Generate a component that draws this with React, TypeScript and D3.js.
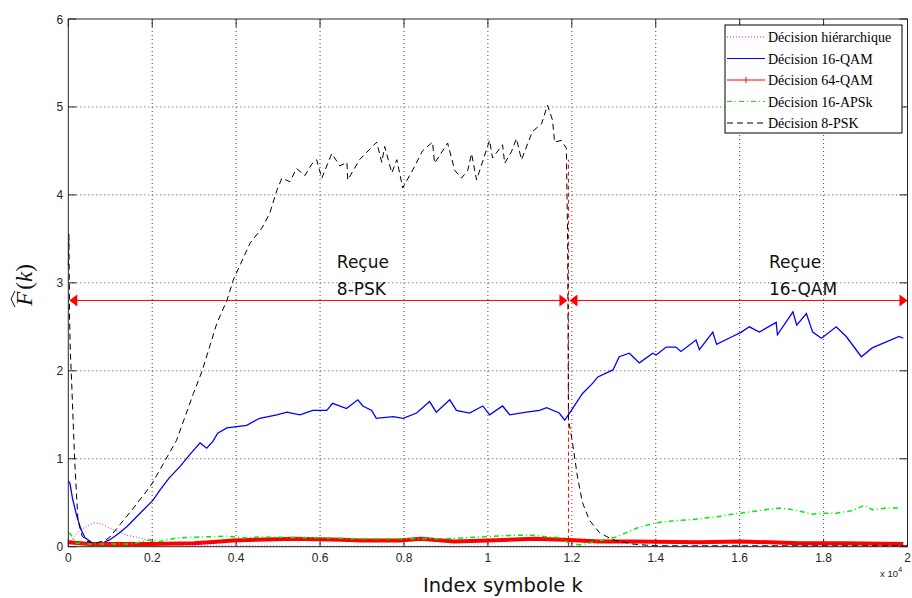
import React from 'react';
import * as d3 from 'd3';

const W = 912, H = 598;
const PL = 68.3, PR = 907.5, PT = 19, PB = 546.7;

const xTicks = [0, 2000, 4000, 6000, 8000, 10000, 12000, 14000, 16000, 18000, 20000];
const xTickLabels = ['0', '0.2', '0.4', '0.6', '0.8', '1', '1.2', '1.4', '1.6', '1.8', '2'];
const yTicks = [0, 1, 2, 3, 4, 5, 6];

// Décision hiérarchique (magenta dotted)
const kHier = [0, 150, 280, 600, 800, 990, 1400, 1710, 1950, 2350, 2800, 6000, 12000, 20000];
const vHier = [0.04, 0.12, 0.19, 0.27, 0.26, 0.21, 0.13, 0.10, 0.06, 0.03, 0.01, 0.005, 0.005, 0.005];

// Décision 16-QAM (blue)
const kQAM16 = [0, 40, 100, 200, 300, 400, 550, 680, 850, 990, 1200, 1400, 1710, 2020, 2180, 2400, 2660, 2900, 3140, 3300, 3450, 3560, 3780, 4250, 4560, 4970, 5210, 5520, 5830, 6160, 6300, 6630, 6900, 7020, 7230, 7340, 7740, 7980, 8300, 8610, 8770, 9090, 9250, 9560, 9880, 10040, 10350, 10520, 10920, 11230, 11400, 11700, 11830, 11990, 12250, 12500, 12620, 12980, 13130, 13370, 13610, 13930, 14010, 14250, 14480, 14600, 14960, 15040, 15360, 15450, 15830, 16040, 16230, 16470, 16870, 16900, 17270, 17360, 17590, 17740, 17950, 18300, 18540, 18900, 19160, 19800, 19900];
const vQAM16 = [0.75, 0.72, 0.55, 0.35, 0.2, 0.1, 0.05, 0.03, 0.05, 0.08, 0.15, 0.23, 0.38, 0.53, 0.64, 0.78, 0.91, 1.05, 1.18, 1.12, 1.2, 1.29, 1.35, 1.38, 1.46, 1.5, 1.53, 1.5, 1.55, 1.55, 1.63, 1.57, 1.67, 1.6, 1.55, 1.46, 1.48, 1.46, 1.52, 1.65, 1.53, 1.67, 1.55, 1.52, 1.6, 1.5, 1.6, 1.5, 1.53, 1.55, 1.58, 1.52, 1.44, 1.55, 1.74, 1.86, 1.93, 2.01, 2.16, 2.2, 2.09, 2.2, 2.18, 2.27, 2.27, 2.22, 2.35, 2.24, 2.44, 2.3, 2.39, 2.44, 2.5, 2.44, 2.55, 2.41, 2.67, 2.52, 2.65, 2.44, 2.37, 2.5, 2.39, 2.16, 2.26, 2.39, 2.37];

// Décision 64-QAM (red)
const kQAM64 = [0, 500, 1000, 2000, 3000, 3370, 3930, 4500, 5360, 6500, 7000, 7900, 8400, 9200, 10000, 11100, 11800, 12660, 13450, 15040, 16000, 17420, 18500, 19900];
const vQAM64 = [0.05, 0.03, 0.03, 0.03, 0.04, 0.05, 0.07, 0.08, 0.09, 0.08, 0.07, 0.07, 0.09, 0.06, 0.07, 0.09, 0.08, 0.06, 0.06, 0.05, 0.06, 0.04, 0.04, 0.03];

// Décision 16-APSk (green dash-dot)
const kAPSK = [0, 40, 200, 500, 1000, 1500, 1950, 2180, 2580, 3140, 3770, 4150, 4560, 6160, 6940, 7900, 9000, 10600, 11070, 11700, 11940, 12200, 12500, 13060, 13540, 13970, 14330, 14880, 15450, 15690, 15990, 16310, 16620, 16940, 17270, 17740, 17980, 18290, 18680, 18970, 19160, 19500, 19850];
const vAPSK = [0.15, 0.15, 0.04, 0.03, 0.03, 0.03, 0.08, 0.06, 0.1, 0.11, 0.12, 0.1, 0.11, 0.1, 0.09, 0.09, 0.09, 0.13, 0.13, 0.1, 0.04, 0.02, 0.05, 0.11, 0.21, 0.27, 0.29, 0.31, 0.34, 0.36, 0.38, 0.4, 0.42, 0.44, 0.42, 0.37, 0.38, 0.38, 0.41, 0.47, 0.42, 0.44, 0.44];

// Décision 8-PSK (black dashed)
const kPSK8 = [0, 15, 30, 50, 80, 150, 230, 330, 450, 640, 870, 990, 1230, 1520, 1830, 2000, 2580, 2980, 3190, 3540, 3780, 3930, 4330, 4610, 4800, 4970, 5090, 5280, 5440, 5640, 5800, 5920, 6040, 6280, 6470, 6640, 6660, 6940, 7350, 7470, 7540, 7710, 7830, 7970, 8250, 8440, 8680, 8730, 9040, 9210, 9370, 9520, 9610, 9730, 10040, 10110, 10350, 10400, 10560, 10680, 10800, 11060, 11280, 11420, 11540, 11590, 11750, 11870, 11900, 11920, 12017, 12136, 12255, 12422, 12660, 12970, 13446, 14000, 20000];
const vPSK8 = [3.2, 3.55, 2.6, 2.2, 1.87, 1.0, 0.3, 0.12, 0.06, 0.04, 0.07, 0.11, 0.25, 0.42, 0.61, 0.72, 1.21, 1.74, 2.0, 2.54, 2.8, 3.03, 3.45, 3.62, 3.79, 4.05, 4.19, 4.15, 4.3, 4.22, 4.35, 4.4, 4.19, 4.47, 4.33, 4.37, 4.17, 4.4, 4.6, 4.37, 4.55, 4.25, 4.4, 4.08, 4.32, 4.5, 4.6, 4.36, 4.59, 4.28, 4.19, 4.28, 4.47, 4.17, 4.62, 4.42, 4.57, 4.36, 4.49, 4.64, 4.4, 4.72, 4.81, 5.02, 4.85, 4.6, 4.62, 4.53, 3.5, 1.45, 1.18, 0.79, 0.5, 0.3, 0.16, 0.08, 0.03, 0.01, 0.01];

// Annotations
const switchK = 11920;
const switchTop = 4.4;
const arrowY = 2.8;
const regionLabels = [
  { k: 6400, lines: ['Reçue', '8-PSK'] },
  { k: 16700, lines: ['Reçue', '16-QAM'] },
];

const legendItems = [
  { label: 'Décision hiérarchique', color: '#ff00ff', dash: '1,2', width: 1 },
  { label: 'Décision 16-QAM', color: '#0000ff', dash: '', width: 1 },
  { label: 'Décision 64-QAM', color: '#ff0000', dash: '', width: 1, marker: true },
  { label: 'Décision 16-APSk', color: '#00ee00', dash: '5,3,1,3', width: 1.2 },
  { label: 'Décision 8-PSK', color: '#000000', dash: '6,4', width: 1 },
];

export default function App() {
  const x = d3.scaleLinear().domain([0, 20000]).range([PL, PR]);
  const y = d3.scaleLinear().domain([0, 6]).range([PB, PT]);
  const line = (ks: number[], vs: number[]) =>
    d3.line<number>().x((_, i) => x(ks[i])).y((v) => y(v))(vs) || '';

  const ay = y(arrowY);
  const sx = x(switchK);
  const ah = 8, aw = 6;

  return (
    <svg width={W} height={H} style={{ position: 'absolute', left: 0, top: 0, background: '#fff' }}
      fontFamily="'Liberation Sans', Arial, sans-serif">
      <rect x={0} y={0} width={W} height={H} fill="#fff" />
      {/* grid */}
      {xTicks.slice(1, -1).map((t) => (
        <line key={'gx' + t} x1={x(t)} x2={x(t)} y1={PT} y2={PB} stroke="#444" strokeWidth={1} strokeDasharray="1,3" />
      ))}
      {yTicks.slice(1, -1).map((t) => (
        <line key={'gy' + t} x1={PL} x2={PR} y1={y(t)} y2={y(t)} stroke="#444" strokeWidth={1} strokeDasharray="1,3" />
      ))}
      {/* ticks inside */}
      {xTicks.map((t) => (
        <g key={'tx' + t}>
          <line x1={x(t)} x2={x(t)} y1={PB} y2={PB - 8} stroke="#262626" />
          <line x1={x(t)} x2={x(t)} y1={PT} y2={PT + 8} stroke="#262626" />
        </g>
      ))}
      {yTicks.map((t) => (
        <g key={'ty' + t}>
          <line x1={PL} x2={PL + 8} y1={y(t)} y2={y(t)} stroke="#262626" />
          <line x1={PR} x2={PR - 8} y1={y(t)} y2={y(t)} stroke="#262626" />
        </g>
      ))}

      {/* series */}
      <path d={line(kHier, vHier)} fill="none" stroke="#ff00ff" strokeWidth={1} strokeDasharray="1,2" />
      <path d={line(kQAM16, vQAM16)} fill="none" stroke="#0000ff" strokeWidth={1.3} />
      <path d={line(kQAM64, vQAM64)} fill="none" stroke="#ff0000" strokeWidth={4} />
      <path d={line(kAPSK, vAPSK)} fill="none" stroke="#00ee00" strokeWidth={1.5} strokeDasharray="5,3,1,3" />
      <line x1={sx} x2={sx} y1={y(0)} y2={y(switchTop)} stroke="#ff0000" strokeWidth={1} strokeDasharray="4,3" />
      <path d={line(kPSK8, vPSK8)} fill="none" stroke="#000" strokeWidth={1} strokeDasharray="6,4" />

      {/* arrows */}
      <line x1={x(0) + 2} x2={sx - 2} y1={ay} y2={ay} stroke="#ff0000" strokeWidth={1} />
      <line x1={sx + 2} x2={x(20000) - 2} y1={ay} y2={ay} stroke="#ff0000" strokeWidth={1} />
      <path d={`M${x(0) + 1},${ay} L${x(0) + 1 + ah},${ay - aw} L${x(0) + 1 + ah},${ay + aw} Z`} fill="#ff0000" />
      <path d={`M${sx - 1},${ay} L${sx - 1 - ah},${ay - aw} L${sx - 1 - ah},${ay + aw} Z`} fill="#ff0000" />
      <path d={`M${sx + 1},${ay} L${sx + 1 + ah},${ay - aw} L${sx + 1 + ah},${ay + aw} Z`} fill="#ff0000" />
      <path d={`M${x(20000)},${ay} L${x(20000) - ah},${ay - aw} L${x(20000) - ah},${ay + aw} Z`} fill="#ff0000" />

      {regionLabels.map((r) => (
        <text key={r.lines[1]} x={x(r.k)} y={268} fontFamily="'DejaVu Sans', sans-serif" fontSize={17} fill="#111">
          <tspan x={x(r.k)} dy={0}>{r.lines[0]}</tspan>
          <tspan x={x(r.k)} dy={27}>{r.lines[1]}</tspan>
        </text>
      ))}

      {/* frame */}
      <rect x={PL} y={PT} width={PR - PL} height={PB - PT} fill="none" stroke="#262626" strokeWidth={1} />

      {/* tick labels */}
      {xTicks.map((t, i) => (
        <text key={'lx' + t} x={x(t)} y={562} textAnchor="middle" fontSize={12} fill="#262626">{xTickLabels[i]}</text>
      ))}
      {yTicks.map((t) => (
        <text key={'ly' + t} x={PL - 5} y={y(t) + 4.5} textAnchor="end" fontSize={12} fill="#262626">{t}</text>
      ))}
      <text x={880} y={577} fontSize={9.5} fill="#262626">x 10<tspan dy={-5} fontSize={7.5}>4</tspan></text>

      {/* axis labels */}
      <text x={423} y={592} fontFamily="'DejaVu Sans', sans-serif" fontSize={19.5} fill="#111">Index symbole k</text>
      <g transform="translate(32,285) rotate(-90)">
        <text x={0} y={0} textAnchor="middle" fontFamily="'Liberation Serif', 'Times New Roman', serif" fontSize={23} fill="#111">
          <tspan fontStyle="italic">F</tspan><tspan dx={2}>(</tspan><tspan fontStyle="italic">k</tspan><tspan>)</tspan>
        </text>
        <path d="M-22,-17 L-14,-21 L-6,-17" fill="none" stroke="#111" strokeWidth={1} />
      </g>

      {/* legend */}
      <rect x={725} y={25} width={177} height={108} fill="#fff" stroke="#000" strokeWidth={1} />
      {legendItems.map((it, i) => {
        const cy = 37 + i * 21.5;
        return (
          <g key={it.label}>
            <line x1={727} x2={765} y1={cy} y2={cy} stroke={it.color} strokeWidth={it.width} strokeDasharray={it.dash || undefined} />
            {it.marker && <line x1={746} x2={746} y1={cy - 3} y2={cy + 3} stroke={it.color} />}
            <text x={768} y={cy + 5} fontFamily="'Liberation Serif', 'Times New Roman', serif" fontSize={14} fill="#000">{it.label}</text>
          </g>
        );
      })}
    </svg>
  );
}
